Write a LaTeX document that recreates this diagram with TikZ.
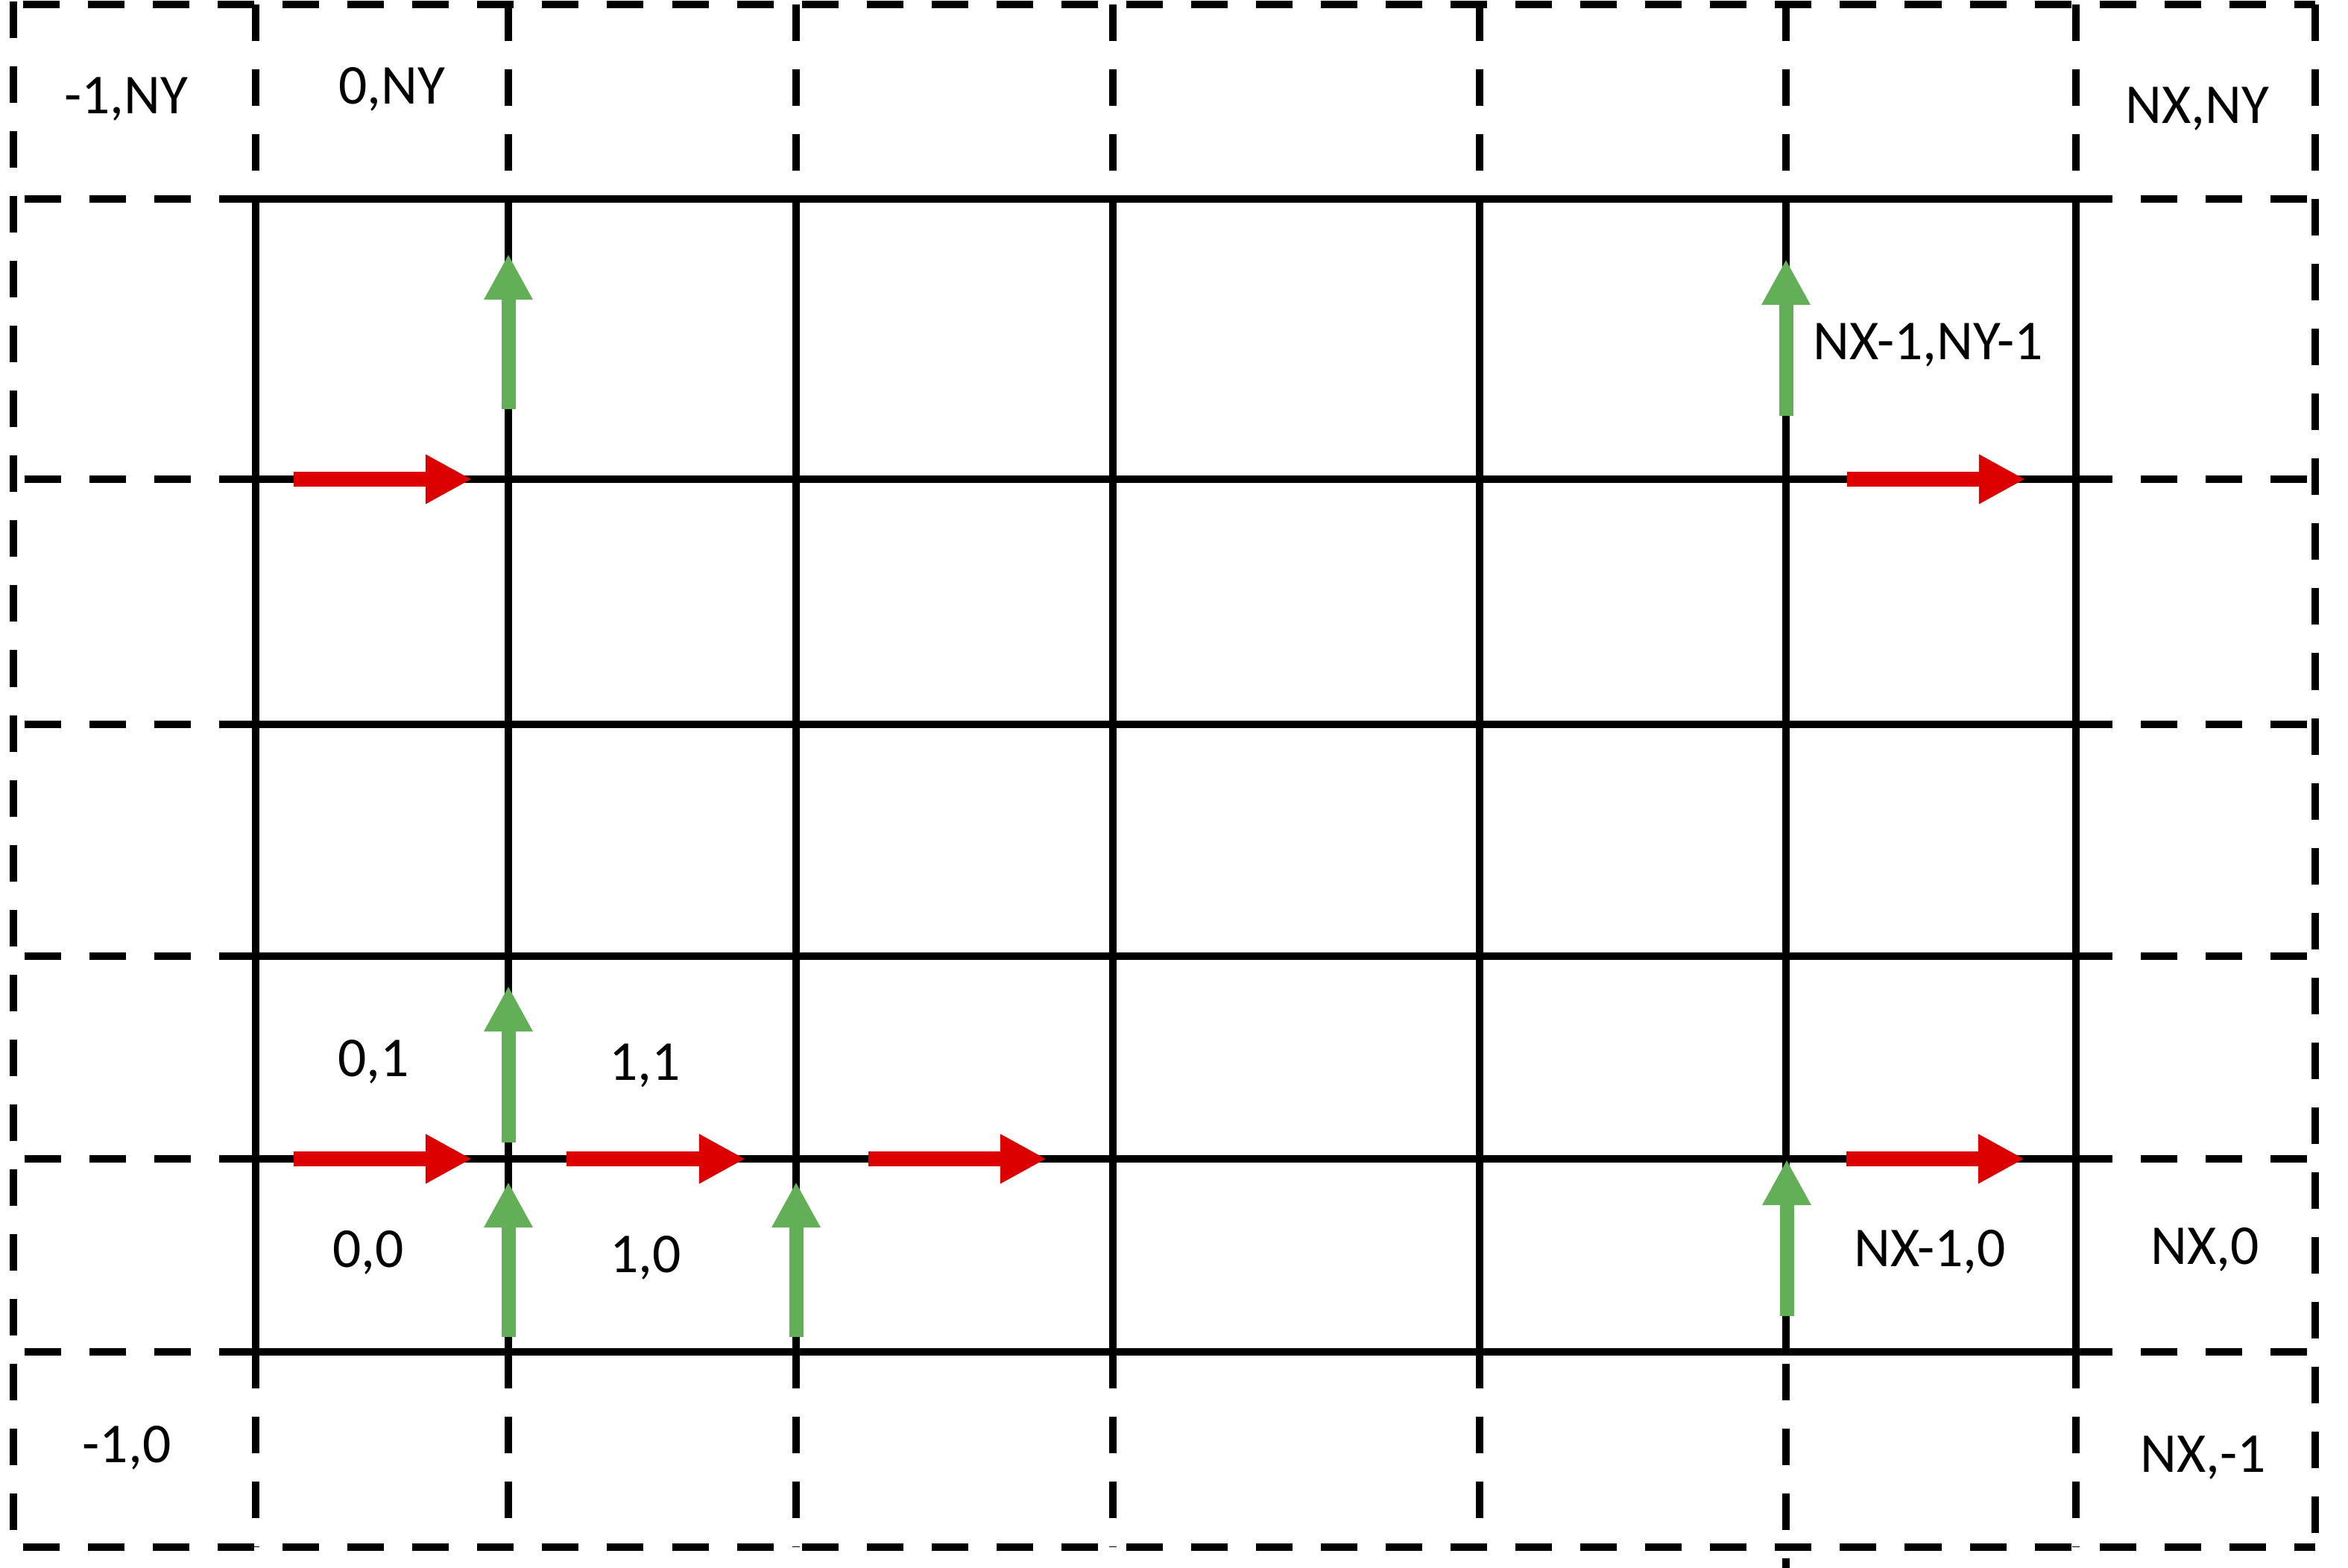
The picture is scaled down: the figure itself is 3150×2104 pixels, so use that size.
\documentclass[tikz,border=0pt]{standalone}
\usepackage{fontspec}
\setmainfont{Carlito}
\usetikzlibrary{arrows.meta}
\definecolor{redarrow}{RGB}{220,0,0}
\definecolor{greenarrow}{RGB}{99,175,87}
\begin{document}
\begin{tikzpicture}[x=0.01cm,y=-0.01cm,
  gridline/.style={line width=1.05mm, black, line cap=rect},
  dashline/.style={line width=1.05mm, black, dash pattern=on 4.9mm off 3.8mm},
  harrow/.style={line width=2mm, color=redarrow, -{Triangle[length=6.2mm,width=6.2mm]}},
  varrow/.style={line width=1.9mm, color=greenarrow, -{Triangle[length=6.1mm,width=6.1mm]}},
  lbl/.style={font=\fontsize{21.5}{25}\selectfont, inner sep=0pt, anchor=base}]
\fill[white] (0,0) rectangle (3150,2104);
\useasboundingbox (0,0) rectangle (3150,2104);
% dashed extensions
\foreach \y in {267,643,972,1283,1555,1814} {
  \draw[dashline] (343,\y) -- (18,\y);
  \draw[dashline] (2785,\y) -- (3106,\y);
}
\foreach \x in {343,682,1068,1493,1985,2396,2785} {
  \draw[dashline] (\x,6) -- (\x,267);
}
\foreach \x in {343,682,1068,1493,1985,2785} {
  \draw[dashline] (\x,1814) -- (\x,2076);
}
\draw[dashline] (2396,1830) -- (2396,2104);
% outer dashed frame
\draw[dashline, dash phase=7.4mm] (18,6) -- (3106,6);
\draw[dashline, dash phase=7.4mm] (18,2076) -- (3106,2076);
\draw[dashline] (18,2) -- (18,2076);
\draw[dashline] (3106,6) -- (3106,2076);
% solid grid
\foreach \x in {343,682,1068,1493,1985,2396,2785} {
  \draw[gridline] (\x,267) -- (\x,1814);
}
\foreach \y in {267,643,972,1283,1555,1814} {
  \draw[gridline] (343,\y) -- (2785,\y);
}
% red (x-direction) arrows
\foreach \n/\xa/\xb/\y in {ra/394/633/643, rb/2478/2717/643, rc/394/633/1555, rd/760/1000/1555, re/1165/1404/1555, rf/2477/2716/1555} {
  \coordinate (\n s) at (\xa,\y);
  \coordinate (\n e) at (\xb,\y);
  \draw[harrow] (\n s) -- (\n e);
}
% green (y-direction) arrows
\foreach \n/\x/\ya/\yb in {ga/682/549/341, gb/2396/558/348, gc/682/1533/1323, gd/682/1794/1586, ge/1068/1794/1586, gf/2397/1766/1556} {
  \coordinate (\n s) at (\x,\ya);
  \coordinate (\n e) at (\x,\yb);
  \draw[varrow] (\n s) -- (\n e);
}
% labels
\node[lbl] (lmNY) at (169,153) {-1,NY};
\node[lbl] (lzNY) at (526,140) {0,NY};
\node[lbl] (lNXNY) at (2948,166) {NX,NY};
\node[lbl] (lNXmNYm) at (2587,483) {NX-1,NY-1};
\node[lbl] (lzo) at (501,1445) {0,1};
\node[lbl] (loo) at (865,1450) {1,1};
\node[lbl] (lzz) at (494,1700) {0,0};
\node[lbl] (loz) at (866,1708) {1,0};
\node[lbl] (lNXmz) at (2589,1699) {NX-1,0};
\node[lbl] (lNXz) at (2958,1696) {NX,0};
\node[lbl] (lNXm) at (2956,1975) {NX,-1};
\node[lbl] (lmz) at (170,1962) {-1,0};
\end{tikzpicture}
\end{document}
